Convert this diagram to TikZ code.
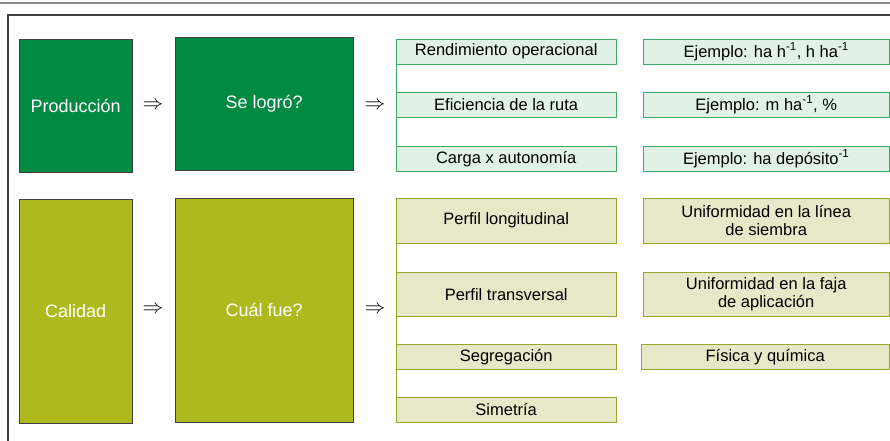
\documentclass[tikz,border=0pt]{standalone}
\usepackage{fontspec}
\setmainfont{Liberation Sans}

\definecolor{prodgreen}{RGB}{0,138,66}
\definecolor{calolive}{RGB}{174,185,30}
\definecolor{lightgreen}{RGB}{226,241,230}
\definecolor{greenline}{RGB}{60,170,100}
\definecolor{lightolive}{RGB}{230,232,200}
\definecolor{oliveline}{RGB}{150,165,40}

\tikzstyle{big} = [draw=black!75, text=white, anchor=north west, inner sep=0pt,
                   font=\fontsize{18}{21}\selectfont]
\tikzstyle{prodbox} = [big, fill=prodgreen]
\tikzstyle{calbox} = [big, fill=calolive]
\tikzstyle{item} = [anchor=north west, inner sep=0pt, align=center,
                    font=\fontsize{16.5}{18}\selectfont]
\tikzstyle{proditem} = [item, draw=greenline, fill=lightgreen]
\tikzstyle{calitem} = [item, draw=oliveline, fill=lightolive]
\tikzstyle{then} = [font=\fontsize{22}{22}\selectfont]

\begin{document}
\begin{tikzpicture}[x=1pt, y=-1pt]
\useasboundingbox (0,0) rectangle (890,440);
% frame
\draw[black!45, line width=1.5pt] (0,3) -- (890,3);
\draw[black!75, line width=1.2pt] (900,15) -- (8,15) -- (8,450);

% produccion
\node[prodbox, minimum width=113pt, minimum height=133pt] (prod) at (19,39) {Producción};
\node[prodbox, minimum width=178pt, minimum height=133pt] (logro) at (175,37) {Se logró?};
\node[then] (t1) at (153,106) {$\Rightarrow$};
\node[then] (t2) at (375,106) {$\Rightarrow$};
\node[proditem, minimum width=220pt, minimum height=25pt] (rend) at (396,39) {Rendimiento operacional};
\node[proditem, minimum width=220pt, minimum height=25pt] (efic) at (396,92) {Eficiencia de la ruta};
\node[proditem, minimum width=220pt, minimum height=25pt] (carga) at (396,146) {Carga x autonomía};
\node[proditem, minimum width=246pt, minimum height=25pt] (ej1) at (643,39)
    {Ejemplo: ha h\textsuperscript{-1}, h ha\textsuperscript{-1}};
\node[proditem, minimum width=246pt, minimum height=25pt] (ej2) at (643,92)
    {Ejemplo: m ha\textsuperscript{-1}, \%};
\node[proditem, minimum width=246pt, minimum height=25pt] (ej3) at (643,146)
    {Ejemplo: ha depósito\textsuperscript{-1}};
\draw[greenline, line width=1pt] (rend.north west) -- (carga.south west);

% calidad
\node[calbox, minimum width=113pt, minimum height=224pt] (cal) at (19,199) {Calidad};
\node[calbox, minimum width=178pt, minimum height=224pt] (fue) at (175,198) {Cuál fue?};
\node[then] (t3) at (153,310) {$\Rightarrow$};
\node[then] (t4) at (375,310) {$\Rightarrow$};
\node[calitem, minimum width=220pt, minimum height=45pt] (longi) at (396,198) {Perfil longitudinal};
\node[calitem, minimum width=220pt, minimum height=44pt] (trans) at (396,272) {Perfil transversal};
\node[calitem, minimum width=220pt, minimum height=25pt] (segr) at (396,344) {Segregación};
\node[calitem, minimum width=220pt, minimum height=25pt] (sime) at (396,397) {Simetría};
\node[calitem, minimum width=246pt, minimum height=45pt] (unilin) at (643,198)
    {Uniformidad en la línea\\de siembra};
\node[calitem, minimum width=246pt, minimum height=44pt] (unifaj) at (643,272)
    {Uniformidad en la faja\\de aplicación};
\node[calitem, minimum width=248pt, minimum height=25pt] (fisq) at (641,344) {Física y química};
\draw[oliveline, line width=1pt] (longi.north west) -- (sime.south west);
\end{tikzpicture}
\end{document}
